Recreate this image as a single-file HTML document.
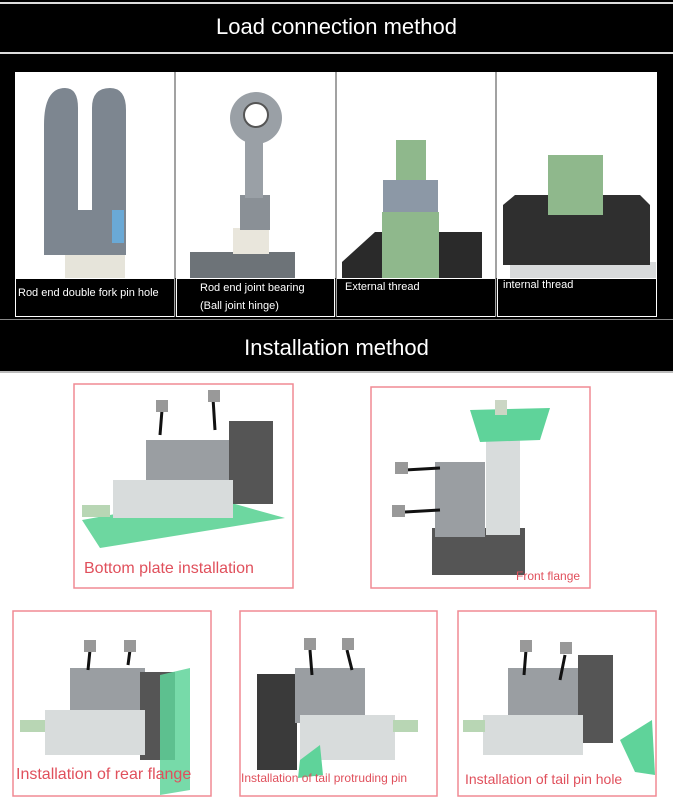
<!DOCTYPE html>
<html><head><meta charset="utf-8"><style>
html,body{margin:0;padding:0;background:#fff;width:673px;height:800px;overflow:hidden;position:relative;font-family:"Liberation Sans",sans-serif}
.abs{position:absolute}
</style></head><body>
<div class="abs" style="left:0;top:0;width:673px;height:373px;background:#000"></div>
<div class="abs" style="left:0;top:2px;width:673px;height:2px;background:#ddd"></div>
<div class="abs" style="left:0;top:52px;width:673px;height:2px;background:#ddd"></div>
<div class="abs" style="left:0;top:14px;width:673px;text-align:center;color:#fff;font-size:22px">Load connection method</div>
<div class="abs" style="left:0;top:319px;width:673px;height:1px;background:#888"></div>
<div class="abs" style="left:0;top:335px;width:673px;text-align:center;color:#fff;font-size:22px">Installation method</div>
<div class="abs" style="left:0;top:371px;width:673px;height:2px;background:#bbb"></div>

<svg class="abs" style="left:0;top:0" width="673" height="800" xmlns="http://www.w3.org/2000/svg">
<!-- panel images -->
<rect x="15" y="72" width="642" height="206" fill="#fff"/>
<rect x="15" y="278" width="642" height="39" fill="#000"/>
<g fill="none" stroke="#fff" stroke-width="1">
<rect x="15.5" y="278.5" width="159" height="38"/><rect x="176.5" y="278.5" width="158" height="38"/>
<rect x="336.5" y="278.5" width="159" height="38"/><rect x="497.5" y="278.5" width="159" height="38"/>
</g>
<line x1="175" y1="72" x2="175" y2="317" stroke="#444"/><line x1="336" y1="72" x2="336" y2="317" stroke="#444"/><line x1="496" y1="72" x2="496" y2="317" stroke="#444"/>
<!-- fork -->
<rect x="65" y="243" width="60" height="35" fill="#e6e4da"/>
<path d="M44 125 Q44 88 65 88 Q78 88 78 108 L78 212 L92 212 L92 108 Q92 88 110 88 Q126 88 126 110 L126 255 L44 255 Z" fill="#7d8690"/>
<rect x="72" y="210" width="50" height="33" fill="#7d8690"/><rect x="112" y="210" width="12" height="33" fill="#6aa9d6"/>
<!-- eye -->
<rect x="190" y="252" width="105" height="26" fill="#6d7378"/><rect x="233" y="228" width="36" height="26" fill="#e9e6dc"/>
<rect x="240" y="195" width="30" height="35" fill="#8a9096"/>
<rect x="245" y="140" width="18" height="58" fill="#9aa0a6"/>
<circle cx="256" cy="118" r="26" fill="#9aa0a6"/><circle cx="256" cy="115" r="12" fill="#fff" stroke="#555" stroke-width="2"/>
<!-- external thread -->
<path d="M342 262 L375 232 L482 232 L482 278 L342 278Z" fill="#2a2a2a"/>
<rect x="382" y="212" width="57" height="66" fill="#8fb88c"/>
<rect x="383" y="180" width="55" height="32" fill="#8c98a6"/>
<rect x="396" y="140" width="30" height="40" fill="#8fb88c"/>
<!-- internal thread -->
<rect x="510" y="262" width="146" height="16" fill="#d8dadb"/>
<path d="M503 205 L515 195 L640 195 L650 205 L650 265 L503 265Z" fill="#2f2f2f"/>
<rect x="548" y="155" width="55" height="60" fill="#8fb88c"/>
<!-- pink boxes -->
<g fill="none" stroke="#f08a94" stroke-width="1.5">
<rect x="74" y="384" width="219" height="204"/><rect x="371" y="387" width="219" height="201"/>
<rect x="13" y="611" width="198" height="185"/><rect x="240" y="611" width="197" height="185"/><rect x="458" y="611" width="198" height="185"/>
</g>
<!-- bottom plate -->
<path d="M82 520 L210 497 L285 518 L100 548Z" fill="#6dd7a0"/>
<rect x="146" y="440" width="88" height="50" fill="#9a9ea2"/>
<rect x="229" y="421" width="44" height="83" fill="#555"/>
<rect x="113" y="480" width="120" height="38" fill="#d8dcdc"/>
<rect x="82" y="505" width="28" height="12" fill="#b8d6b4"/>
<path d="M162 410 L160 435 M213 398 L215 430" stroke="#111" stroke-width="3"/>
<rect x="156" y="400" width="12" height="12" fill="#999"/><rect x="208" y="390" width="12" height="12" fill="#999"/>
<!-- front flange -->
<rect x="432" y="528" width="93" height="47" fill="#555"/>
<rect x="435" y="462" width="50" height="75" fill="#9a9ea2"/>
<rect x="486" y="435" width="34" height="100" fill="#d8dcdc"/>
<path d="M470 410 L550 408 L540 440 L480 442Z" fill="#5fd39a"/>
<rect x="495" y="400" width="12" height="15" fill="#cbd6c4"/>
<path d="M405 470 L440 468 M405 512 L440 510" stroke="#111" stroke-width="3"/>
<rect x="395" y="462" width="13" height="12" fill="#999"/><rect x="392" y="505" width="13" height="12" fill="#999"/>
<!-- rear flange -->
<rect x="70" y="668" width="75" height="50" fill="#9a9ea2"/>
<rect x="140" y="672" width="35" height="88" fill="#555"/>
<rect x="45" y="710" width="100" height="45" fill="#d8dcdc"/>
<path d="M160 675 L190 668 L190 790 L160 795Z" fill="#5fd39a" opacity=".85"/>
<rect x="20" y="720" width="25" height="12" fill="#b8d6b4"/>
<path d="M90 650 L88 670 M130 650 L128 665" stroke="#111" stroke-width="3"/>
<rect x="84" y="640" width="12" height="12" fill="#999"/><rect x="124" y="640" width="12" height="12" fill="#999"/>
<!-- tail protruding -->
<rect x="257" y="674" width="40" height="96" fill="#3a3a3a"/>
<rect x="295" y="668" width="70" height="55" fill="#9a9ea2"/>
<rect x="300" y="715" width="95" height="45" fill="#d8dcdc"/>
<path d="M300 760 L320 745 L323 775 L298 778Z" fill="#5fd39a"/>
<rect x="393" y="720" width="25" height="12" fill="#b8d6b4"/>
<path d="M310 650 L312 675 M347 650 L352 670" stroke="#111" stroke-width="3"/>
<rect x="304" y="638" width="12" height="12" fill="#999"/><rect x="342" y="638" width="12" height="12" fill="#999"/>
<!-- tail pin hole -->
<rect x="508" y="668" width="75" height="55" fill="#9a9ea2"/>
<rect x="578" y="655" width="35" height="88" fill="#555"/>
<rect x="483" y="715" width="100" height="40" fill="#d8dcdc"/>
<path d="M620 740 L652 720 L655 775 L635 772Z" fill="#5fd39a"/>
<rect x="463" y="720" width="22" height="12" fill="#b8d6b4"/>
<path d="M526 650 L524 675 M565 655 L560 680" stroke="#111" stroke-width="3"/>
<rect x="520" y="640" width="12" height="12" fill="#999"/><rect x="560" y="642" width="12" height="12" fill="#999"/>
</svg>

<div class="abs" style="left:18px;top:287px;color:#fff;font-size:11px">Rod end double fork pin hole</div>
<div class="abs" style="left:200px;top:279px;color:#fff;font-size:11px;line-height:18px">Rod end joint bearing<br>(Ball joint hinge)</div>
<div class="abs" style="left:345px;top:281px;color:#fff;font-size:11px">External thread</div>
<div class="abs" style="left:503px;top:279px;color:#fff;font-size:11px">internal thread</div>

<div class="abs" style="left:84px;top:560px;color:#e0505c;font-size:16px">Bottom plate installation</div>
<div class="abs" style="left:516px;top:569px;color:#e0505c;font-size:12px">Front flange</div>
<div class="abs" style="left:16px;top:766px;color:#e0505c;font-size:16px">Installation of rear flange</div>
<div class="abs" style="left:241px;top:771px;color:#e0505c;font-size:12px;white-space:nowrap">Installation of tail protruding pin</div>
<div class="abs" style="left:465px;top:771px;color:#e0505c;font-size:14px;white-space:nowrap">Installation of tail pin hole</div>
</body></html>
